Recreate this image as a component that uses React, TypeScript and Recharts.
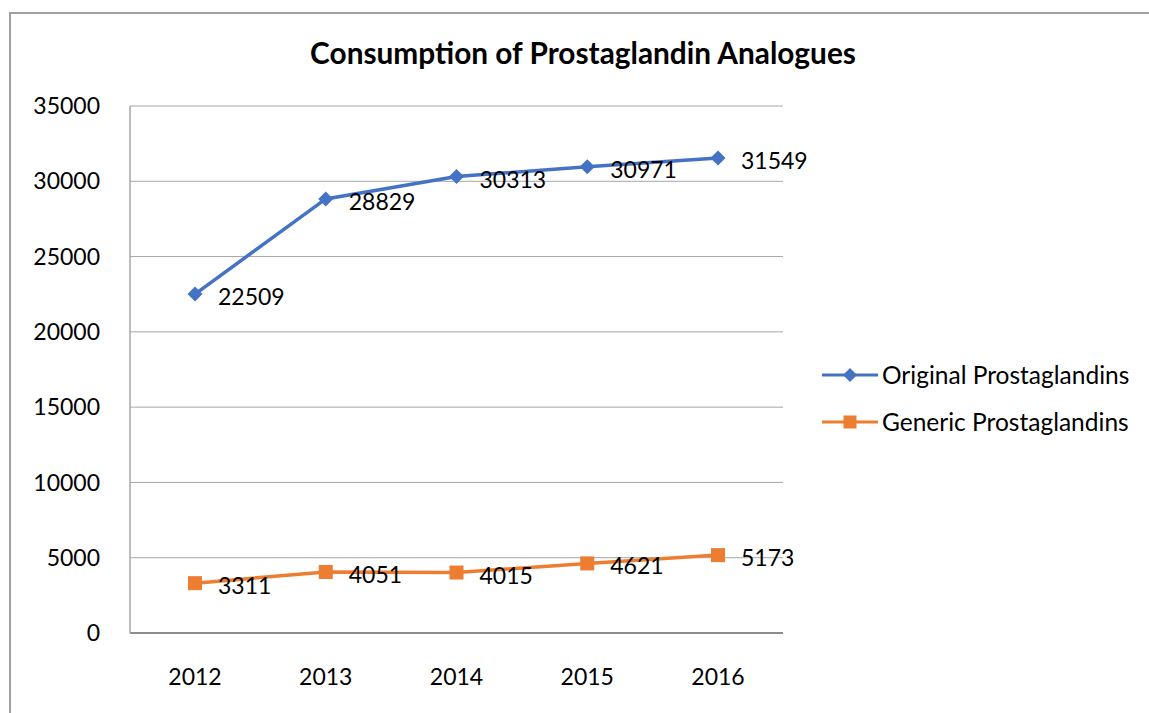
import { LineChart, Line, XAxis, YAxis, CartesianGrid, Legend, LabelList } from 'recharts';

const years = ['2012', '2013', '2014', '2015', '2016'];
const originalValues = [22509, 28829, 30313, 30971, 31549];
const genericValues = [3311, 4051, 4015, 4621, 5173];
const yTicks = [0, 5000, 10000, 15000, 20000, 25000, 30000, 35000];

const BLUE = '#4472C4';
const ORANGE = '#ED7D31';
const FONT = 'Lato, "Open Sans", sans-serif';
const LEGEND_W = 320;

const data = years.map((year, i) => ({
  year,
  original: originalValues[i],
  generic: genericValues[i],
}));

// diamond marker for the original series
const Diamond = (props: { cx?: number; cy?: number }) => {
  const { cx, cy } = props;
  if (cx == null || cy == null) return null;
  const r = 7.5;
  return <path d={`M${cx},${cy - r}L${cx + r},${cy}L${cx},${cy + r}L${cx - r},${cy}Z`} fill={BLUE} />;
};

// square marker for the generic series
const Square = (props: { cx?: number; cy?: number }) => {
  const { cx, cy } = props;
  if (cx == null || cy == null) return null;
  const s = 14;
  return <rect x={cx - s / 2} y={cy - s / 2} width={s} height={s} fill={ORANGE} />;
};

// value labels sit to the right of each point, like Excel's "Right" position
const ValueLabel = (props: { x?: number; y?: number; value?: number | string }) => {
  const { x, y, value } = props;
  if (x == null || y == null) return null;
  return (
    <text x={Number(x) + 23} y={Number(y) + 2} dominantBaseline="central" fontSize={23} fontFamily={FONT} fill="#000">
      {value}
    </text>
  );
};

const LegendContent = () => {
  const items = [
    { label: 'Original Prostaglandins', color: BLUE, shape: 'diamond' },
    { label: 'Generic Prostaglandins', color: ORANGE, shape: 'square' },
  ];
  return (
    <div style={{ fontFamily: FONT, fontSize: 24.5, color: '#000' }}>
      {items.map((it) => (
        <div key={it.label} style={{ display: 'flex', alignItems: 'center', height: 47 }}>
          <svg width={58} height={20} style={{ marginRight: 2 }}>
            <line x1={0} y1={10} x2={56} y2={10} stroke={it.color} strokeWidth={3} />
            {it.shape === 'diamond' ? (
              <path d="M28,3L35,10L28,17L21,10Z" fill={it.color} />
            ) : (
              <rect x={21.5} y={3.5} width={13} height={13} fill={it.color} />
            )}
          </svg>
          <span>{it.label}</span>
        </div>
      ))}
    </div>
  );
};

export default function App() {
  return (
    <div style={{ position: 'absolute', left: 0, top: 0, width: 1149, height: 713, overflow: 'hidden', background: '#fff' }}>
      <div
        style={{
          position: 'absolute',
          left: 9,
          top: 12,
          width: 1200,
          height: 800,
          border: '2px solid #a0a0a0',
        }}
      />
      <div
        style={{
          position: 'absolute',
          left: 0,
          top: 35,
          width: 1166,
          textAlign: 'center',
          fontFamily: FONT,
          fontWeight: 700,
          fontSize: 29.8,
          color: '#000',
        }}
      >
        Consumption of Prostaglandin Analogues
      </div>
      <div style={{ position: 'absolute', left: 0, top: 0 }}>
        <LineChart width={1149} height={713} data={data} margin={{ top: 106, right: 366 - LEGEND_W, bottom: 0, left: 0 }}>
          <CartesianGrid vertical={false} stroke="#a6a6a6" strokeWidth={1} />
          <XAxis
            dataKey="year"
            height={80}
            padding={{ left: 65, right: 65 }}
            tickLine={false}
            axisLine={{ stroke: '#8c8c8c', strokeWidth: 2 }}
            tick={{ fontSize: 23, fontFamily: FONT, fill: '#000' }}
            tickMargin={30}
          />
          <YAxis
            width={130}
            domain={[0, 35000]}
            ticks={yTicks}
            interval={0}
            tickLine={false}
            axisLine={{ stroke: '#a6a6a6', strokeWidth: 1.5 }}
            tick={{ fontSize: 23, fontFamily: FONT, fill: '#000' }}
            tickMargin={24}
          />
          <Legend
            layout="vertical"
            align="right"
            verticalAlign="top"
            content={<LegendContent />}
            wrapperStyle={{ left: 822, top: 351, width: LEGEND_W }}
          />
          <Line
            type="linear"
            dataKey="original"
            name="Original Prostaglandins"
            stroke={BLUE}
            strokeWidth={3.5}
            dot={<Diamond />}
            activeDot={false}
            isAnimationActive={false}
          >
            <LabelList dataKey="original" content={<ValueLabel />} />
          </Line>
          <Line
            type="linear"
            dataKey="generic"
            name="Generic Prostaglandins"
            stroke={ORANGE}
            strokeWidth={3.5}
            dot={<Square />}
            activeDot={false}
            isAnimationActive={false}
          >
            <LabelList dataKey="generic" content={<ValueLabel />} />
          </Line>
        </LineChart>
      </div>
    </div>
  );
}
